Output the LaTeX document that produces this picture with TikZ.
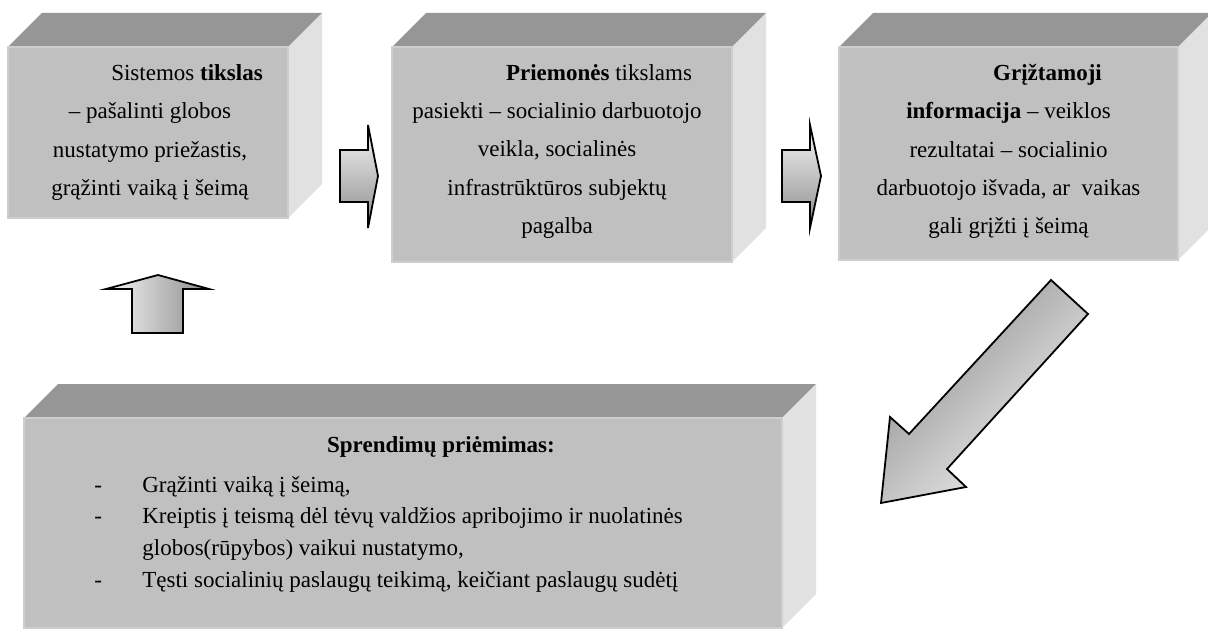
\documentclass[tikz,border=0pt]{standalone}
\usepackage{fontspec}
\setmainfont{Liberation Serif}
\usepackage{tikz}
\usetikzlibrary{calc}
\definecolor{frontcolor}{RGB}{192,192,192}
\definecolor{topcolor}{RGB}{150,150,150}
\definecolor{sidecolor}{RGB}{225,225,225}
\definecolor{edgecolor}{RGB}{206,206,206}
\definecolor{arrowlight}{RGB}{246,246,246}
\definecolor{arrowdark}{RGB}{140,140,140}
\pgfdeclarelayer{bg}
\pgfsetlayers{bg,main}
\tikzstyle{front} = [rectangle, fill=frontcolor, draw=edgecolor, line width=0.6pt, inner sep=0pt, outer sep=0pt]
\tikzstyle{boxtext} = [align=center, inner sep=0pt, font=\fontsize{11.5pt}{19.2pt}\selectfont]
\tikzstyle{listtext} = [inner sep=0pt, font=\fontsize{11.5pt}{15.9pt}\selectfont]
\tikzstyle{blockarrow} = [draw=black, line width=0.9pt, line join=miter]

\begin{document}
\begin{tikzpicture}[x=0.5pt, y=-0.5pt]
\useasboundingbox (0,0) rectangle (1208,630);

%% Box fronts %%
\node [front, minimum width=140pt, minimum height=85.5pt] (Goal) at (148,132.5) {};
\node [front, minimum width=170pt, minimum height=107.5pt] (Means) at (562,154.5) {};
\node [front, minimum width=169.5pt, minimum height=106.5pt] (Feedback) at (1008.5,153.5) {};
\node [front, minimum width=379pt, minimum height=105pt] (Decision) at (403,523) {};

%% Box tops and sides %%
\begin{pgfonlayer}{bg}
\fill[topcolor] (Goal.north west) -- ++(34,-34) -- ($(Goal.north east)+(34,-34)$) -- (Goal.north east) -- cycle;
\fill[sidecolor] (Goal.north east) -- ++(34,-34) -- ($(Goal.south east)+(34,-34)$) -- (Goal.south east) -- cycle;
\fill[topcolor] (Means.north west) -- ++(34,-34) -- ($(Means.north east)+(34,-34)$) -- (Means.north east) -- cycle;
\fill[sidecolor] (Means.north east) -- ++(34,-34) -- ($(Means.south east)+(34,-34)$) -- (Means.south east) -- cycle;
\fill[topcolor] (Feedback.north west) -- ++(34,-34) -- ($(Feedback.north east)+(34,-34)$) -- (Feedback.north east) -- cycle;
\fill[sidecolor] (Feedback.north east) -- ++(34,-34) -- ($(Feedback.south east)+(34,-34)$) -- (Feedback.south east) -- cycle;
\fill[topcolor] (Decision.north west) -- ++(34,-34) -- ($(Decision.north east)+(34,-34)$) -- (Decision.north east) -- cycle;
\fill[sidecolor] (Decision.north east) -- ++(34,-34) -- ($(Decision.south east)+(34,-34)$) -- (Decision.south east) -- cycle;
\end{pgfonlayer}

%% Texts %%
\begin{scope}
\clip (Goal.north west) rectangle ($(Goal.south east)+(0,-14)$);
\node [boxtext] (GoalText) at ($(Goal)+(2,0)$) {\hspace*{37pt}Sistemos \textbf{tikslas}\\ – pašalinti globos\\ nustatymo priežastis,\\ grąžinti vaiką į šeimą};
\end{scope}
\node [boxtext] (MeansText) at ($(Means)+(-5,-3)$) {\hspace*{42pt}\textbf{Priemonės} tikslams\\ pasiekti – socialinio darbuotojo\\ veikla, socialinės\\ infrastrūktūros subjektų\\ pagalba};
\node [boxtext] (FeedbackText) at ($(Feedback)+(0,-2)$) {\hspace*{39pt}\textbf{Grįžtamoji}\\ \textbf{informacija} – veiklos\\ rezultatai – socialinio\\ darbuotojo išvada, ar~ vaikas\\ gali grįžti į šeimą};
\node [listtext, anchor=base] (DecisionHead) at (441,452) {\textbf{Sprendimų priėmimas:}};
\node [listtext, anchor=base west] (DecisionList) at (94,492) {\begin{tabular}[t]{@{}p{24pt}@{}l@{}}
- & Grąžinti vaiką į šeimą,\\
- & Kreiptis į teismą dėl tėvų valdžios apribojimo ir nuolatinės\\
  & globos(rūpybos) vaikui nustatymo,\\
- & Tęsti socialinių paslaugų teikimą, keičiant paslaugų sudėtį
\end{tabular}};

%% Block arrows %%
\shade[blockarrow, top color=arrowlight, bottom color=arrowdark] (340,150) -- (368,150) -- (368,125) -- (378,176) -- (368,228) -- (368,202) -- (340,202) -- cycle;
\shade[blockarrow, top color=arrowlight, bottom color=arrowdark] (782,150) -- (810,150) -- (810,125) -- (821,176) -- (810,228) -- (810,202) -- (782,202) -- cycle;
\shade[blockarrow, left color=arrowlight, right color=arrowdark] (132,333) -- (132,289) -- (106,289) -- (158,275) -- (209,289) -- (183,289) -- (183,333) -- cycle;
\shade[blockarrow, top color=arrowdark, bottom color=arrowlight, shading angle=45] (1051,280) -- (1088,314) -- (947,469) -- (966,487) -- (881,503) -- (890,417) -- (909,434) -- cycle;

\end{tikzpicture}
\end{document}
